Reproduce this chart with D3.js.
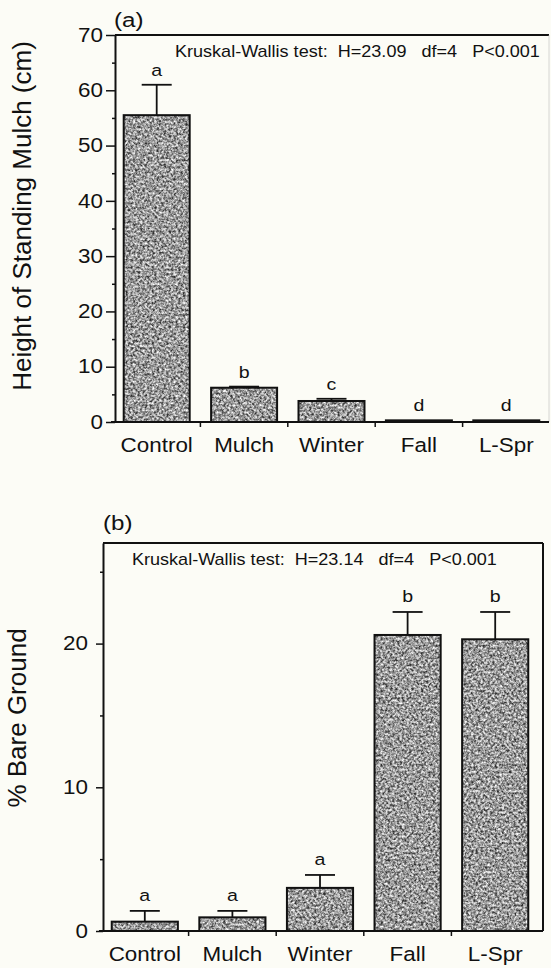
<!DOCTYPE html>
<html lang="en">
  <head>
    <meta charset="utf-8">
    <title>Standing mulch and bare ground</title>
    <style>
      body { margin: 0; background: #fcfcf6; }
      svg { display: block; font-family: "Liberation Sans", Arial, sans-serif; }
      text { fill: #111; }
    </style>
  </head>
  <body>
    <svg class="chart"></svg>
    <script src="https://d3js.org/d3.v7.min.js"></script>
    <script>
      // values
      const categories = ["Control", "Mulch", "Winter", "Fall", "L-Spr"];

      const mulchMean = [55.5, 6.2, 3.8, 0.3, 0.3];
      const mulchSE = [5.5, 0.2, 0.4, 0, 0];
      const mulchGroups = ["a", "b", "c", "d", "d"];
      const mulchTicks = [0, 10, 20, 30, 40, 50, 60, 70];
      const mulchMinor = [5, 15, 25, 35, 45, 55, 65];

      const bareMean = [0.65, 0.95, 3.0, 20.6, 20.3];
      const bareSE = [0.75, 0.45, 0.9, 1.6, 1.9];
      const bareGroups = ["a", "a", "a", "b", "b"];
      const bareTicks = [0, 10, 20];
      const bareMinor = [5, 15, 25];

      const W = 551, H = 968;
      const STRETCH = 1.15; // the scanned type is a bit wide

      const svg = d3.select(".chart").attr("width", W).attr("height", H);
      svg.append("rect").attr("width", W).attr("height", H).attr("fill", "#fcfcf6");

      // grainy halftone look for the bars
      const defs = svg.append("defs");
      const f = defs.append("filter").attr("id", "grain")
        .attr("color-interpolation-filters", "sRGB");
      f.append("feTurbulence").attr("type", "fractalNoise")
        .attr("baseFrequency", 0.42).attr("numOctaves", 4).attr("seed", 7).attr("result", "n");
      f.append("feColorMatrix").attr("in", "n").attr("type", "matrix")
        .attr("values", "0 0 0 0 0.18  0 0 0 0 0.18  0 0 0 0 0.18  3 0 0 0 -1.4").attr("result", "dk");
      f.append("feComposite").attr("in", "dk").attr("in2", "SourceGraphic").attr("operator", "in").attr("result", "dkIn");
      f.append("feColorMatrix").attr("in", "n").attr("type", "matrix")
        .attr("values", "0 0 0 0 1  0 0 0 0 1  0 0 0 0 1  -3.2 0 0 0 1.55").attr("result", "lt");
      f.append("feComposite").attr("in", "lt").attr("in2", "SourceGraphic").attr("operator", "in").attr("result", "ltIn");
      const m = f.append("feMerge");
      m.append("feMergeNode").attr("in", "SourceGraphic");
      m.append("feMergeNode").attr("in", "dkIn");
      m.append("feMergeNode").attr("in", "ltIn");

      function stretchedText(g, x, y, str, size, anchor) {
        return g.append("text")
          .attr("transform", `translate(${x},${y}) scale(${STRETCH},1)`)
          .attr("text-anchor", anchor || "start")
          .style("font-size", size + "px")
          .style("white-space", "pre")
          .text(str);
      }

      function drawPanel(p) {
        const g = svg.append("g");
        const x = d3.scaleBand().domain(categories).range(p.xRange)
          .paddingInner(0.245).paddingOuter(0.1225);
        const y = d3.scaleLinear().domain(p.yDomain).range(p.yRange);
        const y0 = y(0), yTop = y(p.yDomain[1]);

        // frame
        g.append("line").attr("x1", p.axisX).attr("x2", p.rightX).attr("y1", yTop).attr("y2", yTop)
          .attr("stroke", "#111").attr("stroke-width", 2);
        g.append("line").attr("x1", p.rightX).attr("x2", p.rightX).attr("y1", yTop).attr("y2", y0)
          .attr("stroke", p.boxed ? "#111" : "#bbb").attr("stroke-width", p.boxed ? 2 : 1)
          .attr("opacity", p.boxed ? 1 : 0.6);
        g.append("line").attr("x1", p.axisX - 4).attr("x2", p.rightX).attr("y1", y0).attr("y2", y0)
          .attr("stroke", "#111").attr("stroke-width", 2);

        // y axis
        const yAxis = g.append("g").attr("transform", `translate(${p.axisX},0)`)
          .call(d3.axisLeft(y).tickValues(p.ticks).tickSize(p.majorTick)
            .tickPadding(p.labelGap / STRETCH - p.majorTick).tickSizeOuter(0));
        yAxis.select(".domain").attr("stroke", "#111").attr("stroke-width", 2);
        yAxis.selectAll(".tick line").attr("stroke", "#111").attr("stroke-width", 1.5);
        yAxis.selectAll("text").attr("transform", `scale(${STRETCH},1)`)
          .style("font-size", "19.5px").attr("font-family", null).attr("fill", "#111");
        const minor = g.append("g").attr("transform", `translate(${p.axisX},0)`)
          .call(d3.axisLeft(y).tickValues(p.minor).tickSize(3).tickFormat(""));
        minor.select(".domain").remove();
        minor.selectAll(".tick line").attr("stroke", "#111").attr("stroke-width", 1.5);

        // x axis labels and the ticks between the groups
        const xAxis = g.append("g").attr("transform", `translate(0,${y0})`)
          .call(d3.axisBottom(x).tickSize(0).tickPadding(16));
        xAxis.select(".domain").remove();
        xAxis.selectAll("text").attr("transform", `scale(${STRETCH},1)`)
          .style("font-size", "19.5px").attr("font-family", null).attr("fill", "#111");
        const half = x.step() * x.paddingInner() / 2;
        g.selectAll(".sep").data(categories.slice(1)).join("line")
          .attr("x1", d => x(d) - half).attr("x2", d => x(d) - half)
          .attr("y1", y0).attr("y2", y0 + 5)
          .attr("stroke", "#111").attr("stroke-width", 1.5);

        // bars
        const rows = categories.map((c, i) => ({ c, v: p.mean[i], se: p.se[i], grp: p.groups[i] }));
        g.selectAll(".bar").data(rows).join("rect")
          .attr("x", d => x(d.c)).attr("width", x.bandwidth())
          .attr("y", d => y(d.v)).attr("height", d => y0 - y(d.v))
          .attr("fill", "#a6a6a6").attr("filter", "url(#grain)");
        g.selectAll(".outline").data(rows).join("rect")
          .attr("x", d => x(d.c)).attr("width", x.bandwidth())
          .attr("y", d => y(d.v)).attr("height", d => y0 - y(d.v))
          .attr("fill", "none").attr("stroke", "#111").attr("stroke-width", 2);

        // error bars
        const eb = rows.filter(d => d.se > 0);
        const cx = d => x(d.c) + x.bandwidth() / 2;
        g.selectAll(".err").data(eb).join("line")
          .attr("x1", cx).attr("x2", cx)
          .attr("y1", d => y(d.v)).attr("y2", d => y(d.v + d.se))
          .attr("stroke", "#111").attr("stroke-width", 1.8);
        g.selectAll(".cap").data(eb).join("line")
          .attr("x1", d => cx(d) - 15).attr("x2", d => cx(d) + 15)
          .attr("y1", d => y(d.v + d.se)).attr("y2", d => y(d.v + d.se))
          .attr("stroke", "#111").attr("stroke-width", 1.8);

        // group letters
        rows.forEach(d => {
          stretchedText(g, cx(d), y(d.v + d.se) - p.letterGap, d.grp, 17, "middle");
        });

        // titles
        stretchedText(g, p.tagX, p.tagY, p.tag, 21, "start");
        stretchedText(g, p.statX, p.statY, p.stat, 15.7, "start");
        g.append("text")
          .attr("transform", `translate(${p.titleX},${p.titleY}) rotate(-90)`)
          .attr("text-anchor", "middle")
          .style("font-size", "26px")
          .text(p.title);
      }

      drawPanel({
        mean: mulchMean, se: mulchSE, groups: mulchGroups,
        ticks: mulchTicks, minor: mulchMinor,
        yDomain: [0, 70], yRange: [422, 35],
        xRange: [113, 550], axisX: 115, rightX: 549, boxed: false,
        majorTick: 9, labelGap: 12, letterGap: 9,
        tag: "(a)", tagX: 114, tagY: 27,
        stat: "Kruskal-Wallis test:  H=23.09   df=4   P<0.001", statX: 175, statY: 57,
        title: "Height of Standing Mulch (cm)", titleX: 31, titleY: 216
      });

      drawPanel({
        mean: bareMean, se: bareSE, groups: bareGroups,
        ticks: bareTicks, minor: bareMinor,
        yDomain: [0, 27], yRange: [931, 543],
        xRange: [101, 539], axisX: 103, rightX: 543, boxed: true,
        majorTick: 7, labelGap: 15, letterGap: 10,
        tag: "(b)", tagX: 103, tagY: 530,
        stat: "Kruskal-Wallis test:  H=23.14   df=4   P<0.001", statX: 132, statY: 565,
        title: "% Bare Ground", titleX: 26, titleY: 718
      });
    </script>
  </body>
</html>
